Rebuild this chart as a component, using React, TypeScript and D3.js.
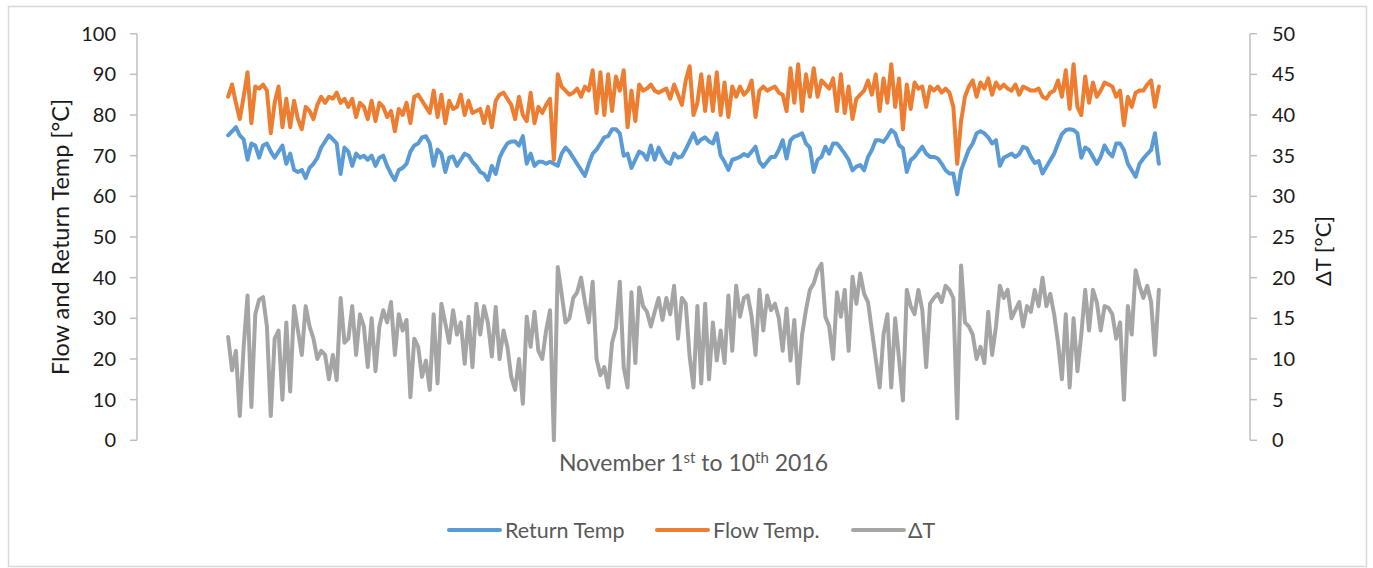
import React from "react";
import * as d3 from "d3";

// Hourly readings, 1 Nov 2016 00:00 through 11 Nov 2016 00:00 (241 samples)
const SAMPLE_HOURS = 1;

const RETURN_TEMP: number[] = [
  75, 76, 77, 75, 74, 69, 73, 72.5, 69.5, 72.5,
  73, 71, 69.5, 71, 72.5, 68, 70.5, 66.5, 66, 66.5,
  64.5, 67, 68, 69.5, 72, 73.5, 75, 74, 73, 65.5,
  72, 71, 67.5, 70.5, 69.5, 70, 69, 70, 67.5, 69.5,
  70, 67.5, 65.5, 64, 66.5, 67, 68, 71, 72.5, 73,
  74.5, 74.8, 73, 67.5, 71.5, 70.5, 66, 69.5, 69.8, 67.5,
  69, 70.5, 70, 68.5, 67.5, 66, 65.5, 64, 67.5, 65.5,
  69.5, 71.5, 73, 73.5, 73.5, 72.5, 74.8, 68, 70.5, 67.5,
  68.5,
  68.5, 68, 68.5, 68, 67.5, 70.5, 72, 71, 69.5, 68,
  66.5, 65, 68, 70.5, 71.5, 73, 74.5, 74.8, 76.5, 76.5,
  75.5, 70, 70.5, 67, 69, 71, 70.5, 69, 72.5, 69,
  72, 70, 68.5, 68, 70.5, 69.5, 69.8, 71.5, 73.5, 75.5,
  73, 74, 74.5, 73.5, 73, 75.5, 70, 68.5, 66.5, 69,
  69.3, 69.7, 70.4, 69.9, 71, 72.2, 68.5, 67.3, 68.5, 69.7,
  69.7, 71.4, 73.8, 69.3, 73.8, 74.7, 75, 75.5, 73, 72,
  66, 69, 69.7, 72.2, 70.5, 73, 73, 71.8, 70.5, 69,
  66.4, 67.3,
  67.7, 66.4, 69.7, 71.4, 73.8, 73.8, 73.4, 74.7, 76.3, 75.5,
  72.6, 71.8, 66, 68.9, 69.7, 71, 72.2, 70.5, 69.7, 69.7,
  69.3, 68, 66.4, 65.6, 65.6, 60.5, 66.4, 69, 71.5, 73,
  75.5, 76, 75.5, 74.5, 73, 73.8, 67.5, 69.5, 70, 70.5,
  69.7, 70.4, 72.2, 71.8, 69.7, 68.2, 68.7, 65.6, 67.3, 68.9,
  70.5, 73, 75.3, 76.3, 76.5, 76.3, 75.5, 69.5, 72, 71.4,
  69.7, 68, 69.7, 72.5, 70.8, 69.8, 73, 73, 71.4, 68,
  66.4, 64.8, 68, 69.3, 70.4, 71.4, 75.5, 68,
];

const FLOW_TEMP: number[] = [
  84.5, 87.5, 83, 79, 84.5, 90.5, 78, 87, 86.5, 87.5,
  86, 75.5, 83, 87, 77, 84, 77, 83.5, 79, 76.5,
  82, 81, 79, 82.5, 84.5, 83, 84.5, 84, 85.5, 83,
  84, 82, 84, 79.5, 83, 82, 79, 83.5, 78.5, 83,
  82, 79.5, 81, 76, 81.5, 80, 83, 78, 84.5, 85,
  83.5, 82, 80.5, 86, 79.5, 85, 78, 83.5, 81.5, 82,
  85, 80, 83.5, 80.5, 81, 81.5, 78, 82, 77, 83.5,
  85, 85.5, 84, 82.5, 79, 84.5, 80, 78.5, 85.5, 78,
  82,
  80.5, 82.5, 84, 69, 90, 87, 86, 85, 85.5, 86.5,
  84.5, 87, 86, 91, 80.5, 90.5, 80, 90, 81, 89.5,
  86, 91, 77, 86, 78.5, 87.5, 86, 86.5, 87.5, 86,
  85.5, 86, 86.5, 84, 87.5, 85, 82.5, 88.5, 92, 80,
  83, 90, 81, 89.5, 81, 90.5, 80, 88, 79.5, 87,
  84.5, 87, 85, 86, 88.5, 79.5, 86, 87, 86, 86.5,
  87, 85.5, 85, 81, 91.5, 83, 92.5, 81, 90, 84.5,
  91.5, 84.5, 88.5, 87.5, 86.5, 89, 81, 90, 80.5, 87,
  79, 84,
  85, 86, 88.5, 85, 90, 81, 89, 83, 92.5, 82,
  89, 76.5, 87.5, 81.5, 88, 86.5, 87, 82, 87, 86,
  87, 85.5, 86.5, 85.5, 82, 68, 78.5, 84.5, 87, 88.5,
  84.5, 88, 86.5, 89, 85, 88, 86.5, 87.5, 86.5, 86,
  87.5, 85, 87, 86.5, 86, 86, 86.5, 84.5, 84, 85.5,
  86, 88.5, 84.5, 91, 81.5, 92.5, 82, 80, 89.5, 83,
  88, 84.5, 86, 88, 87.5, 87, 84.5, 86, 77.5, 84.5,
  82, 85.5, 86, 86, 87.5, 88.5, 82, 87,
];

const DELTA_T: number[] = [
  12.7, 8.6, 11, 3, 11.5, 17.8, 4.1, 15.5, 17.3, 17.6,
  14, 3, 12.5, 13.5, 5, 14.5, 6, 16.5, 13.5, 10.5,
  16.5, 14, 12.5, 10, 11, 10.5, 7.5, 10.5, 7.4, 17.5,
  12, 12.5, 16.5, 10.5, 15.5, 14, 9, 15, 8.5, 14,
  16, 14.5, 17, 10.5, 15.5, 13.5, 14.8, 5.3, 12.5, 11.5,
  7.8, 9.8, 6.2, 15.5, 7, 16.8, 14.4, 12, 16, 13,
  14.5, 9.4, 15.2, 9, 16.8, 13, 16.5, 14.4, 10.3, 16.4,
  10, 13.5, 11.5, 7.8, 6.2, 10, 4.5, 15.2, 11.5, 15.8,
  11,
  10, 13.5, 16, 0, 21.3, 18, 14.5, 15, 17.5, 18.2,
  20, 17, 14.5, 19.5, 10, 8, 9, 6.5, 12, 13.8,
  19.5, 9, 6.5, 18.2, 9.5, 18.8, 16.5, 15.8, 14, 15.8,
  17.5, 14.8, 17.5, 15.5, 19, 12.5, 17.5, 16.8, 10.3, 6.5,
  16.5, 7, 16.8, 7.5, 14.5, 9.8, 13.5, 9.5, 17.8, 11,
  19, 15.2, 17.5, 17.8, 15.2, 10.5, 18.5, 13.5, 17.8, 16,
  16.8, 15, 11, 16.2, 9.8, 14.8, 7, 13, 16, 18.5,
  19.3, 20.9, 21.7, 15.2, 14, 10, 18.2, 15.2, 18.5, 11,
  20.1, 16.8,
  20.5, 18, 17, 13.5, 10, 6.5, 13, 15.5, 6.5, 15,
  10, 4.9, 18.5, 16.5, 15.5, 18.5, 16, 9, 16.8, 17.5,
  18, 17, 19, 18.5, 17.5, 2.7, 21.5, 14.5, 14, 13,
  10, 11.5, 9.5, 15.8, 10.5, 14, 19, 17.5, 18.5, 15,
  16, 17, 14, 16.5, 15.8, 18.5, 16.5, 20, 16.5, 18,
  15.5, 12, 7.5, 15.5, 6.5, 15, 8.5, 13, 18.5, 13.5,
  18.5, 17, 13.5, 16.5, 16.3, 15.5, 12.5, 14.5, 5, 16.5,
  13, 20.9, 19, 17.5, 19, 17, 10.5, 18.5,
];

const LEFT_TICKS = [0, 10, 20, 30, 40, 50, 60, 70, 80, 90, 100];
const RIGHT_TICKS = [0, 5, 10, 15, 20, 25, 30, 35, 40, 45, 50];

const SERIES = [
  { name: "Return Temp", values: RETURN_TEMP, color: "#5B9BD5", axis: "left" },
  { name: "Flow Temp.", values: FLOW_TEMP, color: "#ED7D31", axis: "left" },
  { name: "ΔT", values: DELTA_T, color: "#A5A5A5", axis: "right" },
];

const W = 1373;
const H = 568;
const FONT = "Lato, 'Open Sans', sans-serif";
const plot = { left: 137, right: 1250, top: 33.7, bottom: 440.3 };

// Axis spans a day either side of the measurement window (hours from 1 Nov 00:00)
const x = d3.scaleLinear().domain([-23.5, 263.5]).range([plot.left, plot.right]);
const yLeft = d3.scaleLinear().domain([0, 100]).range([plot.bottom, plot.top]);
const yRight = d3.scaleLinear().domain([0, 50]).range([plot.bottom, plot.top]);

const legendItems = [
  { lineX: 449, textX: 505 },
  { lineX: 657, textX: 713 },
  { lineX: 853, textX: 908 },
];

export default function App() {
  const axisColor = "#BFBFBF";
  const tickText = "#1a1a1a";
  const mutedText = "#595959";

  return (
    <svg
      width={W}
      height={H}
      style={{ position: "absolute", left: 0, top: 0, background: "#fff" }}
      fontFamily={FONT}
    >
      <rect x={8.5} y={6.5} width={1358} height={560} fill="#fff" stroke="#D9D9D9" strokeWidth={1.5} />

      {/* primary axis */}
      <line x1={plot.left} x2={plot.left} y1={yLeft(100)} y2={yLeft(0)} stroke={axisColor} strokeWidth={1.5} />
      {LEFT_TICKS.map((t) => (
        <g key={"l" + t}>
          <line x1={plot.left - 7} x2={plot.left} y1={yLeft(t)} y2={yLeft(t)} stroke={axisColor} strokeWidth={1.5} />
          <text x={116} y={yLeft(t)} dy="0.35em" textAnchor="end" fontSize={20} fill={tickText}>
            {t}
          </text>
        </g>
      ))}

      {/* secondary axis */}
      <line x1={plot.right} x2={plot.right} y1={yRight(50)} y2={yRight(0)} stroke={axisColor} strokeWidth={1.5} />
      {RIGHT_TICKS.map((t) => (
        <g key={"r" + t}>
          <line x1={plot.right} x2={plot.right + 7} y1={yRight(t)} y2={yRight(t)} stroke={axisColor} strokeWidth={1.5} />
          <text x={1272} y={yRight(t)} dy="0.35em" textAnchor="start" fontSize={20} fill={tickText}>
            {t}
          </text>
        </g>
      ))}

      {/* series */}
      {SERIES.map((s) => {
        const yScale = s.axis === "left" ? yLeft : yRight;
        const path = d3
          .line<number>()
          .x((_, i) => x(i * SAMPLE_HOURS))
          .y((d) => yScale(d))(s.values);
        return (
          <path
            key={s.name}
            d={path ?? ""}
            fill="none"
            stroke={s.color}
            strokeWidth={4}
            strokeLinejoin="round"
            strokeLinecap="round"
          />
        );
      })}

      {/* axis titles */}
      <text
        transform={`translate(60, ${(plot.top + plot.bottom) / 2}) rotate(-90)`}
        textAnchor="middle"
        dominantBaseline="central"
        fontSize={23.5}
        fill={tickText}
      >
        Flow and Return Temp [°C]
      </text>
      <text
        transform={`translate(1322, 251) rotate(-90)`}
        textAnchor="middle"
        dominantBaseline="central"
        fontSize={22}
        fill={tickText}
      >
        ΔT [°C]
      </text>
      <text x={(plot.left + plot.right) / 2} y={471} textAnchor="middle" fontSize={23} fill={mutedText}>
        November 1<tspan dy={-8} fontSize={15}>st</tspan>
        <tspan dy={8}> to 10</tspan>
        <tspan dy={-8} fontSize={15}>th</tspan>
        <tspan dy={8}> 2016</tspan>
      </text>

      {/* legend */}
      {SERIES.map((s, i) => (
        <g key={"lg" + s.name}>
          <line
            x1={legendItems[i].lineX}
            x2={legendItems[i].lineX + 51}
            y1={530}
            y2={530}
            stroke={s.color}
            strokeWidth={4}
            strokeLinecap="round"
          />
          <text x={legendItems[i].textX} y={530} dy="0.35em" fontSize={21.5} fill={mutedText}>
            {s.name}
          </text>
        </g>
      ))}
    </svg>
  );
}
